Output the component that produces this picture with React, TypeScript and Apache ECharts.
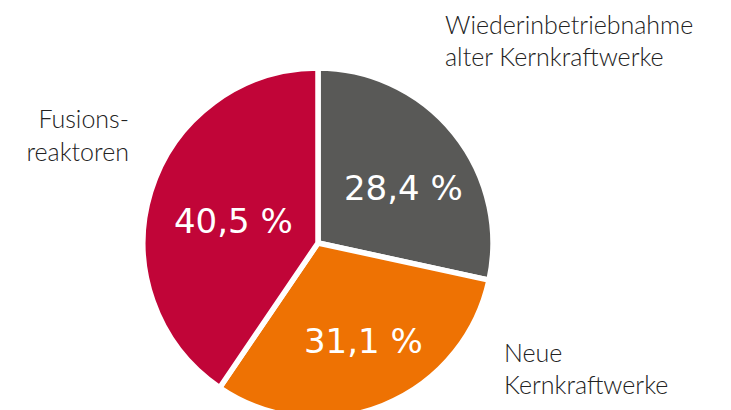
import React, { useEffect, useRef } from "react";
import * as echarts from "echarts";

const categories = ["Wiederinbetriebnahme alter Kernkraftwerke", "Neue Kernkraftwerke", "Fusionsreaktoren"];
const nameLines = [["Wiederinbetriebnahme", "alter Kernkraftwerke"], ["Neue", "Kernkraftwerke"], ["Fusions-", "reaktoren"]];
const values = [28.4, 31.1, 40.5];
const colors = ["#595957", "#ee7203", "#c10538"];

export default function App() {
  const ref = useRef<HTMLDivElement>(null);
  useEffect(() => {
    const chart = echarts.init(ref.current!, null, { renderer: "svg" });
    const font = "Lato, 'Open Sans', sans-serif";
    const data = categories.map((c, i) => ({ name: c, value: values[i], itemStyle: { color: colors[i] } }));
    const labelData = categories.map((c, i) => ({ name: c, value: values[i] }));
    chart.setOption({
      animation: false,
      backgroundColor: "#ffffff",
      series: [
        {
          type: "pie",
          center: [318, 243],
          radius: [0, 175],
          startAngle: 90,
          clockwise: true,
          silent: true,
          label: { show: false },
          labelLine: { show: false },
          itemStyle: { borderColor: "#ffffff", borderWidth: 5.5 },
          data,
        },
        {
          type: "pie",
          center: [327, 250],
          radius: [0, 190],
          startAngle: 90,
          clockwise: true,
          silent: true,
          itemStyle: { color: "rgba(0,0,0,0)", borderWidth: 0 },
          labelLine: { show: false },
          label: {
            show: true,
            position: "inside",
            color: "#ffffff",
            fontFamily: "'DejaVu Sans', sans-serif",
            fontSize: 34,
            fontWeight: "normal",
            formatter: (p: any) => p.value.toFixed(1).replace(".", ",") + " %",
          },
          data: labelData,
        },
      ],
      graphic: [
        {
          type: "text",
          x: 445,
          y: 8,
          style: { text: nameLines[0].join("\n"), font: `300 25px ${font}`, fill: "#222222", lineHeight: 32, align: "left", verticalAlign: "top" },
        },
        {
          type: "text",
          x: 504,
          y: 336,
          style: { text: nameLines[1].join("\n"), font: `300 25px ${font}`, fill: "#222222", lineHeight: 32, align: "left", verticalAlign: "top" },
        },
        {
          type: "text",
          x: 129,
          y: 101,
          style: { text: nameLines[2].join("\n"), font: `300 25px ${font}`, fill: "#222222", lineHeight: 33, align: "right", verticalAlign: "top" },
        },
      ],
    });
    return () => chart.dispose();
  }, []);
  return <div ref={ref} style={{ position: "absolute", left: 0, top: 0, width: 731, height: 410 }} />;
}
